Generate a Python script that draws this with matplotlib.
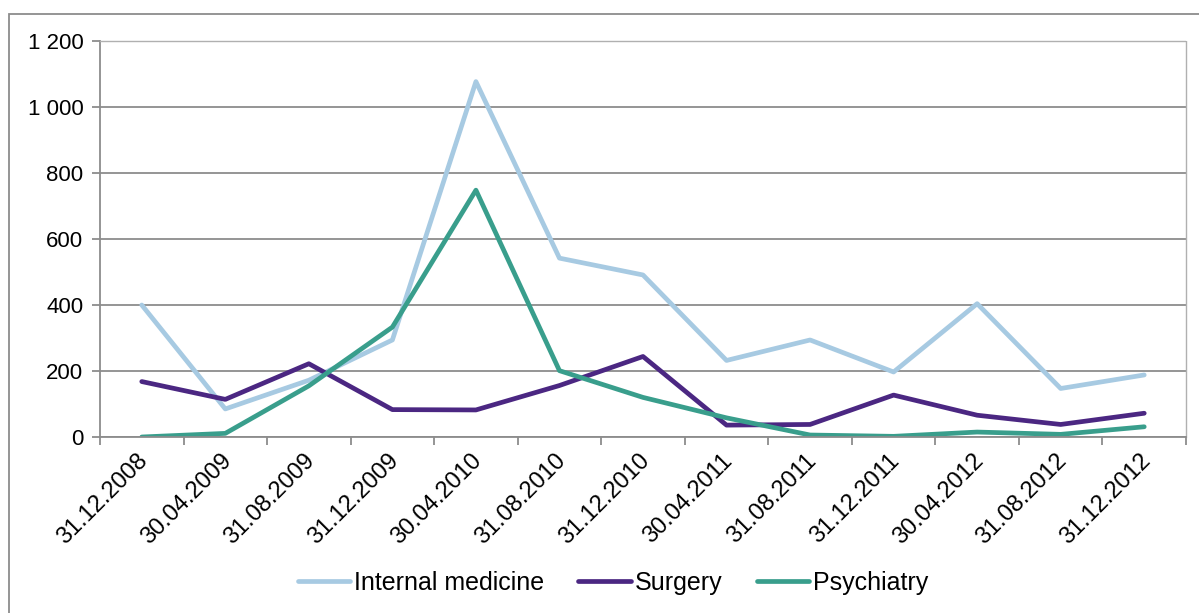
import matplotlib
matplotlib.use("Agg")
import matplotlib.pyplot as plt
import matplotlib.transforms as mtransforms
from matplotlib.patches import Rectangle
from matplotlib.ticker import FuncFormatter

# data
dates = ["31.12.2008", "30.04.2009", "31.08.2009", "31.12.2009", "30.04.2010",
         "31.08.2010", "31.12.2010", "30.04.2011", "31.08.2011", "31.12.2011",
         "30.04.2012", "31.08.2012", "31.12.2012"]
internal = [400, 85, 172, 294, 1077, 542, 491, 232, 294, 197, 404, 147, 188]
surgery = [168, 114, 222, 83, 82, 156, 244, 36, 38, 127, 66, 38, 72]
psychiatry = [0, 11, 155, 333, 748, 201, 120, 58, 6, 2, 15, 8, 31]

yticks = [0, 200, 400, 600, 800, 1000, 1200]

plt.rcParams['font.family'] = ['Liberation Sans', 'DejaVu Sans']

fig = plt.figure(figsize=(11.99, 6.13), dpi=100)
ax = fig.add_axes([100/1199, 1-437/613, 1086/1199, 396/613])

x = list(range(len(dates)))
l1, = ax.plot(x, internal, color="#a7cae2", lw=3.4, solid_capstyle="round", label="Internal medicine")
l2, = ax.plot(x, surgery, color="#4b2782", lw=3.4, solid_capstyle="round", label="Surgery")
l3, = ax.plot(x, psychiatry, color="#399e8c", lw=3.4, solid_capstyle="round", label="Psychiatry")

ax.set_xlim(-0.5, len(dates) - 0.5)
ax.set_ylim(0, 1200)
ax.set_yticks(yticks)
ax.yaxis.set_major_formatter(FuncFormatter(lambda v, p: "{:,}".format(int(v)).replace(",", " ")))
ax.grid(axis="y", color="#8c8c8c", lw=1.3)
ax.set_axisbelow(True)

ax.set_xticks(x)
ax.set_xticklabels(dates, rotation=45, ha="right", rotation_mode="anchor")
ax.set_xticks([i - 0.5 for i in range(len(dates) + 1)], minor=True)
ax.tick_params(axis="x", which="major", length=0, pad=9, labelsize=17)
ax.tick_params(axis="x", which="minor", length=6, color="#8c8c8c", width=1.3)
ax.tick_params(axis="y", length=6, color="#8c8c8c", width=1.3, labelsize=16, pad=6)
# nudge date labels a little to the left
shift = mtransforms.ScaledTranslation(-5/100, 0, fig.dpi_scale_trans)
for lab in ax.get_xticklabels():
    lab.set_transform(lab.get_transform() + shift)

for s in ["left", "bottom"]:
    ax.spines[s].set_color("#8c8c8c")
    ax.spines[s].set_linewidth(1.3)
for s in ["top", "right"]:
    ax.spines[s].set_color("#b0b0b0")
    ax.spines[s].set_linestyle((0, (1, 1)))
    ax.spines[s].set_linewidth(1.0)

fig.legend(handles=[l1, l2, l3], loc="center", bbox_to_anchor=(613/1199, 1-583/613),
           ncol=3, frameon=False, fontsize=18, handlelength=2.1, handletextpad=0.16,
           columnspacing=1.36)

# outer chart border, clipped by the image edges
fig.patches.append(Rectangle((8.5/1199, -0.1), 1.2, 1-14/613+0.1, transform=fig.transFigure,
                             fill=False, edgecolor="#8c8c8c", lw=1.3, clip_on=False))

fig.savefig("out.png", dpi=100)
